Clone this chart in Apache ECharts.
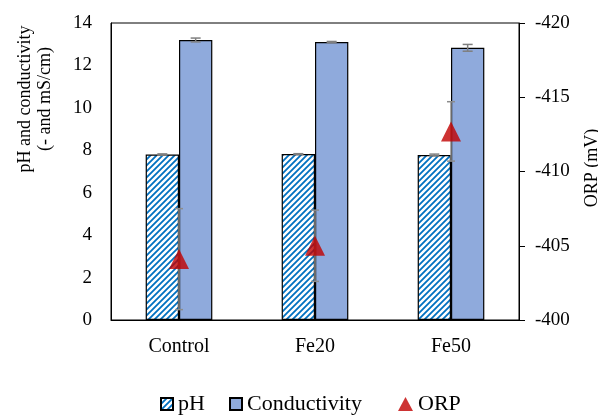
<!DOCTYPE html>
<html><head><meta charset="utf-8">
<script src="https://cdn.jsdelivr.net/npm/echarts@6/dist/echarts.min.js"></script>
<style>html,body{margin:0;padding:0;background:#fff}#c{width:598px;height:416px}</style>
</head><body><div id="c"></div>
<script>
const categories = ['Control', 'Fe20', 'Fe50'];
const phValues = [7.80, 7.82, 7.78];
const phErr = [0.03, 0.02, 0.04];
const condValues = [13.2, 13.1, 12.83];
const condErr = [0.09, 0.03, 0.16];
const orpValues = [-404.1, -405.0, -412.7];
const orpErr = [3.4, 2.4, 2.0];
const leftTicks = { min: 0, max: 14, interval: 2 };
const rightTicks = { min: -420, max: -400, interval: 5 };
const leftTitle = 'pH and conductivity\n(- and mS/cm)';
const rightTitle = 'ORP (mV)';

const FONT = '"Liberation Serif", "DejaVu Serif", serif';
const BARW = 0.245;

const pc = document.createElement('canvas');
pc.width = 6; pc.height = 6;
const px = pc.getContext('2d');
px.fillStyle = '#fff'; px.fillRect(0, 0, 6, 6);
px.strokeStyle = '#0070C0'; px.lineWidth = 1.8;
px.beginPath();
px.moveTo(-1, 7); px.lineTo(7, -1);
px.moveTo(-4, 4); px.lineTo(4, -4);
px.moveTo(2, 10); px.lineTo(10, 2);
px.stroke();
const hatch = { image: pc, repeat: 'repeat' };

function errSeries(vals, errs, shift, yIdx, cap, color) {
  return {
    type: 'custom', yAxisIndex: yIdx, z: 5, silent: true,
    data: vals.map((v, i) => [i, v, errs[i]]),
    renderItem: function (params, api) {
      const i = api.value(0), v = api.value(1), e = api.value(2);
      const band = api.size([1, 0])[0];
      const x = api.coord([i, v])[0] + shift * band * BARW / 2;
      const y1 = api.coord([i, v - e])[1];
      const y2 = api.coord([i, v + e])[1];
      const st = { stroke: color, lineWidth: 1.5 };
      return { type: 'group', children: [
        { type: 'line', shape: { x1: x, y1: y1, x2: x, y2: y2 }, style: st },
        { type: 'line', shape: { x1: x - cap, y1: y1, x2: x + cap, y2: y1 }, style: st },
        { type: 'line', shape: { x1: x - cap, y1: y2, x2: x + cap, y2: y2 }, style: st }
      ]};
    }
  };
}

const legendCommon = {
  top: 393, padding: 0, itemWidth: 12, itemHeight: 12, itemGap: 0,
  textStyle: { fontFamily: FONT, fontSize: 22, color: '#000' }
};

const chart = echarts.init(document.getElementById('c'), null, { renderer: 'canvas' });
chart.setOption({
  animation: false,
  backgroundColor: '#fff',
  textStyle: { fontFamily: FONT, color: '#000' },
  grid: { left: 111, right: 79, top: 23, bottom: 96, show: true, borderColor: '#000', borderWidth: 1,
          containLabel: false, outerBoundsMode: 'none' },
  graphic: [
    { type: 'text', x: 35, y: 99, rotation: Math.PI / 2,
      style: { text: leftTitle, fontFamily: FONT, fontSize: 18, lineHeight: 20, fill: '#000',
               align: 'center', verticalAlign: 'middle' } },
    { type: 'text', x: 592, y: 168, rotation: Math.PI / 2,
      style: { text: rightTitle, fontFamily: FONT, fontSize: 18, fill: '#000',
               align: 'center', verticalAlign: 'middle' } }
  ],
  legend: [
    Object.assign({}, legendCommon, { left: 160, data: [{ name: 'pH', icon: 'rect' }] }),
    Object.assign({}, legendCommon, { left: 229, data: [{ name: 'Conductivity', icon: 'rect' }] }),
    Object.assign({}, legendCommon, { left: 398, itemWidth: 15, itemHeight: 14,
      data: [{ name: 'ORP', icon: 'triangle' }] })
  ],
  xAxis: {
    type: 'category', data: categories,
    axisLine: { lineStyle: { color: '#000', width: 1 } },
    axisTick: { show: false },
    axisLabel: { fontFamily: FONT, fontSize: 20, color: '#000', margin: 17 }
  },
  yAxis: [
    {
      type: 'value', min: leftTicks.min, max: leftTicks.max, interval: leftTicks.interval,
      axisLine: { show: true, lineStyle: { color: '#000', width: 1 } },
      axisTick: { show: false },
      splitLine: { show: false },
      axisLabel: { fontFamily: FONT, fontSize: 19, color: '#000', margin: 19 }
    },
    {
      type: 'value', inverse: true, min: rightTicks.min, max: rightTicks.max, interval: rightTicks.interval,
      position: 'right',
      axisLine: { show: true, lineStyle: { color: '#000', width: 1 } },
      axisTick: { show: true, length: 6, lineStyle: { color: '#000' } },
      splitLine: { show: false },
      axisLabel: { fontFamily: FONT, fontSize: 19, color: '#000', margin: 16 }
    }
  ],
  series: [
    {
      name: 'pH', type: 'bar', data: phValues, barWidth: (BARW * 100) + '%', barGap: '0%',
      itemStyle: { color: hatch, borderColor: '#000', borderWidth: 1.2 }, z: 2
    },
    {
      name: 'Conductivity', type: 'bar', data: condValues, barWidth: (BARW * 100) + '%', barGap: '0%',
      itemStyle: { color: '#8FAADC', borderColor: '#000', borderWidth: 1.2 }, z: 2
    },
    errSeries(phValues, phErr, -1, 0, 5, '#7f7f7f'),
    errSeries(condValues, condErr, 1, 0, 5, '#7f7f7f'),
    errSeries(orpValues, orpErr, 0, 1, 4, '#8c8c8c'),
    {
      name: 'ORP', type: 'scatter', yAxisIndex: 1, data: orpValues, z: 10,
      symbol: 'triangle', symbolSize: [20, 20],
      itemStyle: { color: '#C00000' }
    }
  ]
});
</script></body></html>
